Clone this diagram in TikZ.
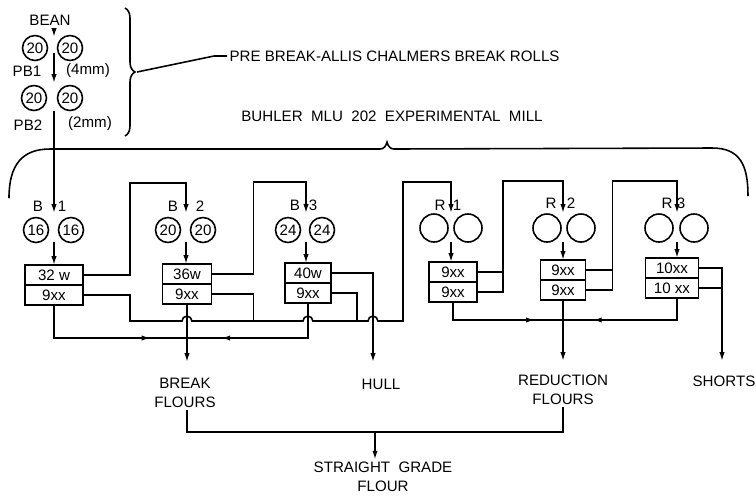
\documentclass[tikz,border=0pt]{standalone}
\usepackage{fontspec}
\setmainfont{Liberation Sans}
\usetikzlibrary{arrows.meta, positioning, calc, decorations.pathreplacing, decorations.markings}

\begin{document}
\begin{tikzpicture}[
    x=0.02cm, y=-0.02cm,
    font=\fontsize{8.6}{10.8}\selectfont,
    line width=0.9pt,
    % Rolls
    roll/.style={draw, circle, minimum size=0.5cm, inner sep=0pt},
    plainroll/.style={draw, circle, minimum size=0.56cm, inner sep=0pt},
    % Sifter boxes
    sieve/.style={draw, rectangle, minimum height=0.4cm, inner sep=0pt, outer sep=0pt},
    txt/.style={align=center, inner sep=1pt},
    % Arrows
    arrow/.style={-{Latex[length=5pt, width=3pt]}},
    collect/.style={postaction={decorate}, decoration={markings, mark=at position 0.78 with {\arrow{Latex[length=5pt, width=3pt]}}}}
]
\useasboundingbox (0,0) rectangle (756,495);

% ---------------------------------------------------
% 1. PRE BREAK ROLLS
% ---------------------------------------------------
\node[txt] (bean) at (50,20) {BEAN};
\coordinate (pb1) at (54,48);
\coordinate (pb2) at (54,98);
\node[roll] (pb1l) at ($(pb1)+(-19,0)$) {20};
\node[roll] (pb1r) at ($(pb1)+(16,0)$) {20};
\node[roll] (pb2l) at ($(pb2)+(-20,0)$) {20};
\node[roll] (pb2r) at ($(pb2)+(16,0)$) {20};
\node[txt] (pb1n) at (27,71) {PB1};
\node[txt] (pb1g) at (88,71) {(4mm)};
\node[txt] (pb2n) at (28,125) {PB2};
\node[txt] (pb2g) at (90,124) {(2mm)};

\draw[decorate, decoration={brace, amplitude=0.2cm}] (125,8) -- (125,136);
\coordinate (pbtip) at (137,72);
\node[txt, anchor=west] (prebreak) at (227,56) {PRE BREAK-ALLIS CHALMERS BREAK ROLLS};
\draw (pbtip) -- (214,56) -- (prebreak.west);

% ---------------------------------------------------
% 2. BUHLER MILL
% ---------------------------------------------------
\node[txt] (mill) at (392,116) {BUHLER\ \ MLU\ \ 202\ \ EXPERIMENTAL\ \ MILL};
\draw (9,198) .. controls (9,165) and (22,149) .. (50,149) -- (380,149)
    .. controls (384,149) and (386,146) .. (387,142)
    .. controls (388,146) and (390,149) .. (394,149) -- (712,148)
    .. controls (740,148) and (748,165) .. (748,196);

% roll stands (nip points)
\coordinate (b1) at (54,230);
\coordinate (b2) at (186,230);
\coordinate (b3) at (306,230);
\coordinate (r1) at (451,228);
\coordinate (r2) at (563,228);
\coordinate (r3) at (677,228);

\node[txt] (b1t) at ($(b1)+(-16,-24)$) {B};
\node[txt] (b1d) at ($(b1)+(8,-24)$) {1};
\node[txt] (b2t) at ($(b2)+(-13,-24)$) {B};
\node[txt] (b2d) at ($(b2)+(14,-24)$) {2};
\node[txt] (b3t) at ($(b3)+(-11,-25)$) {B};
\node[txt] (b3d) at ($(b3)+(7,-25)$) {3};
\node[txt] (r1t) at ($(r1)+(-11,-23)$) {R};
\node[txt] (r1d) at ($(r1)+(6,-23)$) {1};
\node[txt] (r2t) at ($(r2)+(-12,-25)$) {R};
\node[txt] (r2d) at ($(r2)+(8,-25)$) {2};
\node[txt] (r3t) at ($(r3)+(-10,-25)$) {R};
\node[txt] (r3d) at ($(r3)+(4,-25)$) {3};

\node[roll] (b1l) at ($(b1)+(-18,0)$) {16};
\node[roll] (b1r) at ($(b1)+(17,0)$) {16};
\node[roll] (b2l) at ($(b2)+(-18,0)$) {20};
\node[roll] (b2r) at ($(b2)+(17,0)$) {20};
\node[roll] (b3l) at ($(b3)+(-18,0)$) {24};
\node[roll] (b3r) at ($(b3)+(16,0)$) {24};
\node[plainroll] (r1l) at ($(r1)+(-17,0)$) {};
\node[plainroll] (r1r) at ($(r1)+(17,0)$) {};
\node[plainroll] (r2l) at ($(r2)+(-16,0)$) {};
\node[plainroll] (r2r) at ($(r2)+(18,0)$) {};
\node[plainroll] (r3l) at ($(r3)+(-18,0)$) {};
\node[plainroll] (r3r) at ($(r3)+(17,0)$) {};

% sifters
\node[sieve, minimum width=1.16cm] (b1a) at (54,275) {32 w};
\node[sieve, minimum width=1.16cm, below=0pt of b1a] (b1b) {9xx};
\node[sieve, minimum width=0.98cm] (b2a) at (187,274) {36w};
\node[sieve, minimum width=0.98cm, below=0pt of b2a] (b2b) {9xx};
\node[sieve, minimum width=0.92cm] (b3a) at (308,273) {40w};
\node[sieve, minimum width=0.92cm, below=0pt of b3a] (b3b) {9xx};
\node[sieve, minimum width=0.96cm] (r1a) at (453,272) {9xx};
\node[sieve, minimum width=0.96cm, below=0pt of r1a] (r1b) {9xx};
\node[sieve, minimum width=0.9cm] (r2a) at (563,270) {9xx};
\node[sieve, minimum width=0.9cm, below=0pt of r2a] (r2b) {9xx};
\node[sieve, minimum width=1.06cm] (r3a) at (672,268) {10xx};
\node[sieve, minimum width=1.06cm, below=0pt of r3a] (r3b) {10 xx};

% products
\node[txt] (brkfl) at (185,393) {BREAK\\FLOURS};
\node[txt] (hull) at (381,384) {HULL};
\node[txt] (redfl) at (563,390) {REDUCTION\\FLOURS};
\node[txt] (shorts) at (724,381) {SHORTS};
\node[txt] (sgf) at (383,477) {STRAIGHT\ \ GRADE\\FLOUR};

\coordinate (bus) at (130,321);
\coordinate (bk) at (187,338);
\coordinate (rd) at (563,320);
\coordinate (bkout) at (187,362);
\coordinate (hullout) at (373,362);
\coordinate (rdout) at (563,361);
\coordinate (shout) at (722,361);
\coordinate (sg) at (375,432);

% ---------------------------------------------------
% 3. CONNECTIONS
% ---------------------------------------------------

% Bean -> pre break -> B1
\draw[arrow] (bean.south -| pb1) -- ($(pb1)+(0,-11)$);
\draw[arrow] ($(pb1)+(0,5)$) -- ($(pb2)+(0,-15)$);
\draw[arrow] ($(pb2)+(0,13)$) -- ($(b1)+(0,-17)$);

% Rolls -> sifters
\draw[arrow] ($(b1)+(0,12)$) -- (b1 |- b1a.north);
\draw[arrow] ($(b2)+(0,12)$) -- (b2 |- b2a.north);
\draw[arrow] ($(b3)+(0,12)$) -- (b3 |- b3a.north);
\draw[arrow] ($(r1)+(0,14)$) -- (r1 |- r1a.north);
\draw[arrow] ($(r2)+(0,14)$) -- (r2 |- r2a.north);
\draw[arrow] ($(r3)+(0,14)$) -- (r3 |- r3a.north);

% Break overs
\draw[arrow] (b1a.east) -- ++(47,0) |- ($(b2)+(0,-47)$) -- ($(b2)+(0,-17)$);
\draw[arrow] (b2a.east) -- ++(42,0) |- ($(b3)+(0,-48)$) -- ($(b3)+(0,-17)$);
\draw[arrow] (b3a.east) -| (hullout);

% Break middlings to R1 (hops over the crossings)
\draw[arrow] (b1b.east) -| (bus)
    -- ($(b2b.south |- bus)+(-5,0)$) arc[start angle=180, end angle=0, radius=2.8pt]
    -- ($(b3b.south |- bus)+(-5,0)$) arc[start angle=180, end angle=0, radius=2.8pt]
    -- ($(hullout |- bus)+(-5,0)$) arc[start angle=180, end angle=0, radius=2.8pt]
    -| ($(r1)+(-48,-46)$) -| ($(r1)+(0,-15)$);
\draw (b2b.east) -- ++(42,0) coordinate (b2j) -- (b2j |- bus);
\draw (b3b.east) -- ++(26,0) coordinate (b3j) -- (b3j |- bus);

% Break flours
\draw[collect] (b1b.south) |- (bk);
\draw[collect] (b3b.south) |- (bk);
\draw[arrow] (b2b.south) -- (bkout);

% Reduction overs
\draw[arrow] (r1b.east) -- ++(26,0) |- ($(r2)+(0,-47)$) -- ($(r2)+(0,-15)$);
\draw (r1a.east) -- ++(26,0);
\draw[arrow] (r2b.east) -- ++(27,0) |- ($(r3)+(0,-47)$) -- ($(r3)+(0,-15)$);
\draw (r2a.east) -- ++(27,0);
\draw[arrow] (r3a.east) -| (shout);
\draw (r3b.east) -- (r3b.east -| shout);

% Reduction flours
\draw[collect] (r1b.south) |- (rd);
\draw[collect] (r3 |- r3b.south) |- (rd);
\draw[arrow] (r2b.south) -- (rdout);

% Straight grade
\draw (bk |- brkfl.south) |- (sg) -| (rdout |- redfl.south);
\draw[arrow] (sg) -- (sg |- sgf.north);

\end{tikzpicture}
\end{document}
